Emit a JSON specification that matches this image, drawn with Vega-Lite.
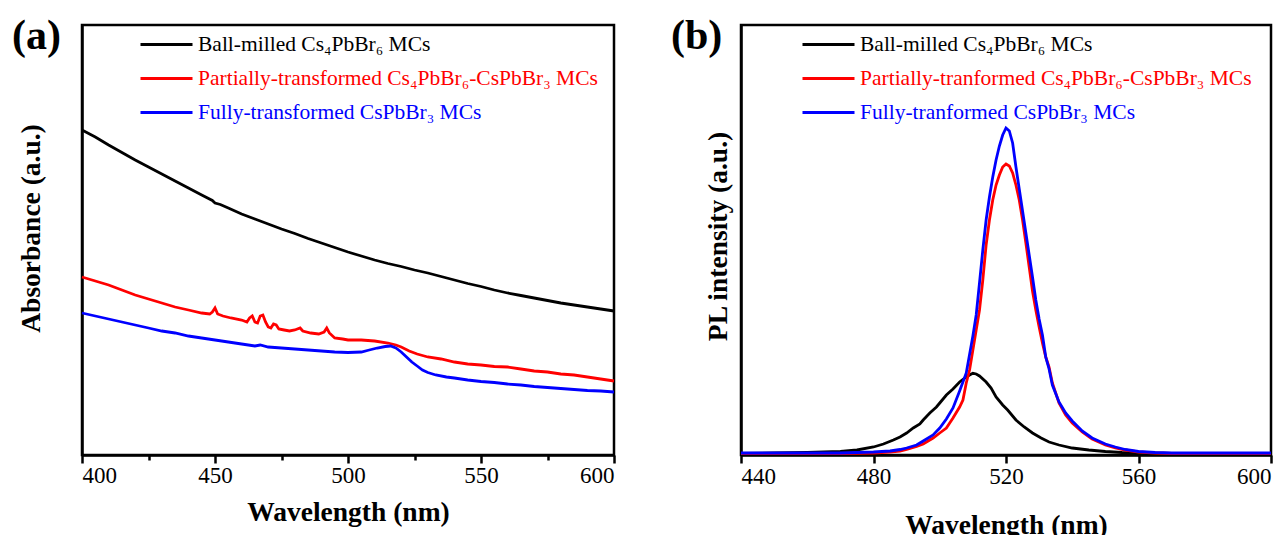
{
  "$schema": "https://vega.github.io/schema/vega-lite/v6.json",
  "padding": {"left": 10, "top": 23, "right": 0, "bottom": 0},
  "background": "white",
  "config": {
    "font": "Liberation Serif",
    "view": {"stroke": "#000000", "strokeWidth": 2.5},
    "axis": {
      "grid": false,
      "domainColor": "#000000",
      "domainWidth": 2.5,
      "tickColor": "#000000",
      "tickWidth": 2.5,
      "labelColor": "#000000",
      "labelFont": "Liberation Serif",
      "labelFontSize": 23,
      "titleFont": "Liberation Serif",
      "titleFontSize": 27.5,
      "titleFontWeight": "bold",
      "titleColor": "#000000"
    },
    "legend": {
      "labelFont": "Liberation Serif",
      "labelFontSize": 21.5,
      "titleFont": "Liberation Serif",
      "titleFontSize": 42,
      "titleFontWeight": "bold",
      "titleColor": "#000000",
      "titleOrient": "left",
      "titleAnchor": "start",
      "titleBaseline": "top",
      "titleLimit": 0,
      "titlePadding": 94,
      "orient": "none",
      "legendX": -70,
      "legendY": 8,
      "symbolType": "M-2.6,0H2.6",
      "symbolSize": 400,
      "symbolStrokeWidth": 3,
      "labelOffset": 20,
      "rowPadding": 12,
      "labelLimit": 0
    }
  },
  "datasets": {
    "abs": [
      {"k":"B","nm":400,"v":325},{"k":"B","nm":405,"v":318},{"k":"B","nm":410,"v":310},{"k":"B","nm":415,"v":302.5},{"k":"B","nm":420,"v":295},{"k":"B","nm":425,"v":288},{"k":"B","nm":430,"v":281},{"k":"B","nm":435,"v":274},{"k":"B","nm":440,"v":267},{"k":"B","nm":445,"v":260},{"k":"B","nm":449,"v":254.5},{"k":"B","nm":450,"v":252},{"k":"B","nm":452,"v":250.5},{"k":"B","nm":455,"v":247},{"k":"B","nm":460,"v":241},{"k":"B","nm":465,"v":236},{"k":"B","nm":470,"v":231},{"k":"B","nm":475,"v":226},{"k":"B","nm":480,"v":221.5},{"k":"B","nm":485,"v":216.5},{"k":"B","nm":490,"v":212},{"k":"B","nm":495,"v":207.5},{"k":"B","nm":500,"v":203},{"k":"B","nm":505,"v":199},{"k":"B","nm":510,"v":195},{"k":"B","nm":515,"v":191.5},{"k":"B","nm":520,"v":188.5},{"k":"B","nm":525,"v":185},{"k":"B","nm":530,"v":182},{"k":"B","nm":535,"v":178.5},{"k":"B","nm":540,"v":175},{"k":"B","nm":545,"v":171.5},{"k":"B","nm":550,"v":168.5},{"k":"B","nm":555,"v":165},{"k":"B","nm":560,"v":162},{"k":"B","nm":565,"v":159.5},{"k":"B","nm":570,"v":157},{"k":"B","nm":575,"v":154.5},{"k":"B","nm":580,"v":152},{"k":"B","nm":585,"v":150},{"k":"B","nm":590,"v":148},{"k":"B","nm":595,"v":146},{"k":"B","nm":600,"v":144},
      {"k":"P","nm":400,"v":178},{"k":"P","nm":405,"v":174},{"k":"P","nm":410,"v":170},{"k":"P","nm":415,"v":165},{"k":"P","nm":420,"v":160},{"k":"P","nm":425,"v":156},{"k":"P","nm":430,"v":152},{"k":"P","nm":435,"v":148},{"k":"P","nm":440,"v":145},{"k":"P","nm":445,"v":142},{"k":"P","nm":448,"v":141},{"k":"P","nm":449,"v":143},{"k":"P","nm":450,"v":147},{"k":"P","nm":451,"v":141},{"k":"P","nm":453,"v":139},{"k":"P","nm":456,"v":137},{"k":"P","nm":460,"v":135},{"k":"P","nm":462,"v":133},{"k":"P","nm":463,"v":137},{"k":"P","nm":464,"v":139},{"k":"P","nm":465,"v":133},{"k":"P","nm":466,"v":132},{"k":"P","nm":467,"v":139},{"k":"P","nm":468,"v":140},{"k":"P","nm":469,"v":133},{"k":"P","nm":470,"v":128},{"k":"P","nm":471,"v":127},{"k":"P","nm":472,"v":131},{"k":"P","nm":473,"v":130},{"k":"P","nm":474,"v":126},{"k":"P","nm":476,"v":125},{"k":"P","nm":478,"v":124},{"k":"P","nm":480,"v":125},{"k":"P","nm":482,"v":127},{"k":"P","nm":483,"v":124},{"k":"P","nm":486,"v":122},{"k":"P","nm":489,"v":121},{"k":"P","nm":491,"v":123},{"k":"P","nm":492,"v":127},{"k":"P","nm":493,"v":122},{"k":"P","nm":495,"v":117},{"k":"P","nm":498,"v":116},{"k":"P","nm":500,"v":115},{"k":"P","nm":505,"v":115},{"k":"P","nm":510,"v":114},{"k":"P","nm":515,"v":112},{"k":"P","nm":518,"v":110},{"k":"P","nm":520,"v":108},{"k":"P","nm":523,"v":104},{"k":"P","nm":526,"v":101},{"k":"P","nm":530,"v":98},{"k":"P","nm":535,"v":96},{"k":"P","nm":540,"v":93},{"k":"P","nm":545,"v":91},{"k":"P","nm":550,"v":90},{"k":"P","nm":555,"v":88.5},{"k":"P","nm":560,"v":88},{"k":"P","nm":565,"v":86},{"k":"P","nm":570,"v":84},{"k":"P","nm":575,"v":83},{"k":"P","nm":580,"v":81},{"k":"P","nm":585,"v":80},{"k":"P","nm":590,"v":78},{"k":"P","nm":595,"v":76},{"k":"P","nm":600,"v":74},
      {"k":"F","nm":400,"v":142},{"k":"F","nm":405,"v":139},{"k":"F","nm":410,"v":136},{"k":"F","nm":415,"v":133},{"k":"F","nm":420,"v":130},{"k":"F","nm":425,"v":127},{"k":"F","nm":430,"v":124},{"k":"F","nm":435,"v":122},{"k":"F","nm":440,"v":119},{"k":"F","nm":445,"v":117},{"k":"F","nm":450,"v":115},{"k":"F","nm":455,"v":113},{"k":"F","nm":460,"v":111},{"k":"F","nm":465,"v":109},{"k":"F","nm":467,"v":110},{"k":"F","nm":470,"v":108},{"k":"F","nm":475,"v":107},{"k":"F","nm":480,"v":106},{"k":"F","nm":485,"v":105},{"k":"F","nm":490,"v":104},{"k":"F","nm":495,"v":103},{"k":"F","nm":500,"v":102.5},{"k":"F","nm":505,"v":103},{"k":"F","nm":508,"v":105},{"k":"F","nm":511,"v":107},{"k":"F","nm":514,"v":108.5},{"k":"F","nm":516,"v":109},{"k":"F","nm":518,"v":107},{"k":"F","nm":520,"v":103},{"k":"F","nm":522,"v":98},{"k":"F","nm":524,"v":93},{"k":"F","nm":526,"v":89},{"k":"F","nm":528,"v":85},{"k":"F","nm":530,"v":82.5},{"k":"F","nm":533,"v":80},{"k":"F","nm":537,"v":78},{"k":"F","nm":540,"v":77},{"k":"F","nm":545,"v":75},{"k":"F","nm":550,"v":73.5},{"k":"F","nm":555,"v":72.5},{"k":"F","nm":560,"v":71},{"k":"F","nm":565,"v":70},{"k":"F","nm":570,"v":68.5},{"k":"F","nm":575,"v":67.5},{"k":"F","nm":580,"v":66.5},{"k":"F","nm":585,"v":65.5},{"k":"F","nm":590,"v":64.5},{"k":"F","nm":595,"v":64},{"k":"F","nm":600,"v":63}
    ],
    "pl": [
      {"k":"B","nm":440,"v":1.5},{"k":"B","nm":450,"v":2},{"k":"B","nm":460,"v":2.5},{"k":"B","nm":465,"v":3},{"k":"B","nm":470,"v":3.5},{"k":"B","nm":475,"v":5},{"k":"B","nm":480,"v":8},{"k":"B","nm":483,"v":11},{"k":"B","nm":486,"v":15},{"k":"B","nm":488,"v":18},{"k":"B","nm":490,"v":22},{"k":"B","nm":492,"v":27},{"k":"B","nm":494,"v":31},{"k":"B","nm":495,"v":35},{"k":"B","nm":497,"v":42},{"k":"B","nm":499,"v":48},{"k":"B","nm":500,"v":52},{"k":"B","nm":502,"v":60},{"k":"B","nm":504,"v":66},{"k":"B","nm":506,"v":73},{"k":"B","nm":508,"v":78},{"k":"B","nm":509,"v":80},{"k":"B","nm":510,"v":81.7},{"k":"B","nm":511,"v":81},{"k":"B","nm":512,"v":79},{"k":"B","nm":514,"v":73},{"k":"B","nm":515.5,"v":67},{"k":"B","nm":517,"v":58},{"k":"B","nm":519,"v":50},{"k":"B","nm":520.5,"v":45},{"k":"B","nm":523,"v":35},{"k":"B","nm":525.5,"v":28},{"k":"B","nm":528,"v":22},{"k":"B","nm":530.6,"v":17},{"k":"B","nm":533,"v":13},{"k":"B","nm":536,"v":10},{"k":"B","nm":540,"v":7},{"k":"B","nm":545,"v":5},{"k":"B","nm":550,"v":3.5},{"k":"B","nm":555,"v":2.5},{"k":"B","nm":560,"v":2},{"k":"B","nm":570,"v":1.5},{"k":"B","nm":600,"v":1.5},
      {"k":"P","nm":440,"v":1.5},{"k":"P","nm":460,"v":1.5},{"k":"P","nm":470,"v":1.5},{"k":"P","nm":480,"v":2},{"k":"P","nm":485,"v":3},{"k":"P","nm":488,"v":4},{"k":"P","nm":490,"v":5.5},{"k":"P","nm":493,"v":8.5},{"k":"P","nm":495,"v":11},{"k":"P","nm":498,"v":17},{"k":"P","nm":500,"v":22},{"k":"P","nm":502,"v":27},{"k":"P","nm":504,"v":37},{"k":"P","nm":506,"v":48},{"k":"P","nm":507,"v":55},{"k":"P","nm":508,"v":72},{"k":"P","nm":509,"v":85},{"k":"P","nm":510,"v":105},{"k":"P","nm":511,"v":125},{"k":"P","nm":512,"v":145},{"k":"P","nm":513,"v":175},{"k":"P","nm":514,"v":210},{"k":"P","nm":515,"v":235},{"k":"P","nm":516,"v":255},{"k":"P","nm":517,"v":270},{"k":"P","nm":518,"v":280},{"k":"P","nm":519,"v":288},{"k":"P","nm":520,"v":291},{"k":"P","nm":521,"v":289},{"k":"P","nm":522,"v":282},{"k":"P","nm":523,"v":270},{"k":"P","nm":524,"v":255},{"k":"P","nm":525,"v":235},{"k":"P","nm":526,"v":212},{"k":"P","nm":527,"v":188},{"k":"P","nm":528,"v":164},{"k":"P","nm":529,"v":145},{"k":"P","nm":530,"v":128},{"k":"P","nm":531,"v":112},{"k":"P","nm":532,"v":98},{"k":"P","nm":533,"v":88},{"k":"P","nm":534,"v":72},{"k":"P","nm":536,"v":52},{"k":"P","nm":538,"v":40},{"k":"P","nm":540,"v":32},{"k":"P","nm":543,"v":23},{"k":"P","nm":546,"v":16},{"k":"P","nm":550,"v":10},{"k":"P","nm":553,"v":7},{"k":"P","nm":556,"v":5},{"k":"P","nm":560,"v":3},{"k":"P","nm":565,"v":2},{"k":"P","nm":570,"v":1.5},{"k":"P","nm":580,"v":1.5},{"k":"P","nm":600,"v":1.5},
      {"k":"F","nm":440,"v":2},{"k":"F","nm":450,"v":2},{"k":"F","nm":460,"v":2},{"k":"F","nm":470,"v":2},{"k":"F","nm":475,"v":2.5},{"k":"F","nm":480,"v":3},{"k":"F","nm":485,"v":4},{"k":"F","nm":488,"v":5.5},{"k":"F","nm":490,"v":7},{"k":"F","nm":493,"v":10},{"k":"F","nm":495,"v":14},{"k":"F","nm":498,"v":20},{"k":"F","nm":500,"v":27},{"k":"F","nm":502,"v":36},{"k":"F","nm":504,"v":47},{"k":"F","nm":506,"v":64},{"k":"F","nm":508,"v":82},{"k":"F","nm":510,"v":119},{"k":"F","nm":511,"v":140},{"k":"F","nm":512,"v":172},{"k":"F","nm":513,"v":205},{"k":"F","nm":514,"v":235},{"k":"F","nm":515,"v":258},{"k":"F","nm":516,"v":278},{"k":"F","nm":517,"v":295},{"k":"F","nm":518,"v":309},{"k":"F","nm":519,"v":320},{"k":"F","nm":520,"v":327},{"k":"F","nm":521,"v":324},{"k":"F","nm":522,"v":312},{"k":"F","nm":523,"v":288},{"k":"F","nm":524,"v":266},{"k":"F","nm":525,"v":244},{"k":"F","nm":526,"v":222},{"k":"F","nm":527,"v":200},{"k":"F","nm":528,"v":178},{"k":"F","nm":529,"v":155},{"k":"F","nm":530,"v":136},{"k":"F","nm":531,"v":120},{"k":"F","nm":532,"v":98},{"k":"F","nm":533,"v":86},{"k":"F","nm":534,"v":70},{"k":"F","nm":536,"v":53},{"k":"F","nm":538,"v":42},{"k":"F","nm":540,"v":34},{"k":"F","nm":543,"v":24},{"k":"F","nm":546,"v":17},{"k":"F","nm":550,"v":11},{"k":"F","nm":553,"v":8},{"k":"F","nm":556,"v":5.5},{"k":"F","nm":560,"v":3.5},{"k":"F","nm":565,"v":2.5},{"k":"F","nm":570,"v":2},{"k":"F","nm":580,"v":2},{"k":"F","nm":590,"v":2},{"k":"F","nm":600,"v":2}
    ]
  },
  "hconcat": [
    {
      "width": 532,
      "height": 430,
      "data": {"name": "abs"},
      "mark": {"type": "line", "strokeWidth": 2.8},
      "encoding": {
        "x": {
          "field": "nm", "type": "quantitative",
          "scale": {"domain": [400, 600], "nice": false, "zero": false},
          "axis": {
            "title": "Wavelength (nm)",
            "values": [400, 425, 450, 475, 500, 525, 550, 575, 600],
            "labelExpr": "datum.value % 50 === 0 ? datum.label : ''",
            "labelOverlap": false,
            "labelPadding": 1,
            "tickSize": {"condition": {"test": "datum.value % 50 === 0", "value": 8}, "value": 5},
            "titlePadding": 11
          }
        },
        "y": {
          "field": "v", "type": "quantitative",
          "scale": {"domain": [0, 430], "nice": false},
          "axis": {"title": "Absorbance (a.u.)", "labels": false, "ticks": false, "titlePadding": 37, "titleY": 203}
        },
        "color": {
          "field": "k", "type": "nominal",
          "scale": {"domain": ["B", "P", "F"], "range": ["#000000", "#ff0000", "#0000ff"]},
          "legend": {
            "title": "(a)",
            "labelExpr": "datum.value === 'B' ? 'Ball-milled Cs₄PbBr₆ MCs' : datum.value === 'P' ? 'Partially-transformed Cs₄PbBr₆-CsPbBr₃ MCs' : 'Fully-transformed CsPbBr₃ MCs'",
            "encode": {
              "title": {"update": {"dy": {"value": -17}}},
              "labels": {"update": {"fill": {"signal": "datum.value === 'P' ? '#ff0000' : datum.value === 'F' ? '#0000ff' : '#000000'"}}}
            }
          }
        }
      }
    },
    {
      "width": 530,
      "height": 430,
      "data": {"name": "pl"},
      "mark": {"type": "line", "strokeWidth": 2.8},
      "encoding": {
        "x": {
          "field": "nm", "type": "quantitative",
          "scale": {"domain": [440, 600], "nice": false, "zero": false},
          "axis": {
            "title": "Wavelength (nm)",
            "values": [440, 480, 520, 560, 600],
            "labelOverlap": false,
            "labelPadding": 2,
            "tickSize": 8,
            "titlePadding": 23
          }
        },
        "y": {
          "field": "v", "type": "quantitative",
          "scale": {"domain": [0, 430], "nice": false},
          "axis": {"title": "PL intensity (a.u.)", "labels": false, "ticks": false, "titlePadding": 9, "titleY": 211}
        },
        "color": {
          "field": "k", "type": "nominal",
          "scale": {"domain": ["B", "P", "F"], "range": ["#000000", "#ff0000", "#0000ff"]},
          "legend": {
            "title": "(b)",
            "labelExpr": "datum.value === 'B' ? 'Ball-milled Cs₄PbBr₆ MCs' : datum.value === 'P' ? 'Partially-tranformed Cs₄PbBr₆-CsPbBr₃ MCs' : 'Fully-tranformed CsPbBr₃ MCs'",
            "encode": {
              "title": {"update": {"dy": {"value": -17}}},
              "labels": {"update": {"fill": {"signal": "datum.value === 'P' ? '#ff0000' : datum.value === 'F' ? '#0000ff' : '#000000'"}}}
            }
          }
        }
      }
    }
  ],
  "spacing": 48,
  "resolve": {"scale": {"color": "independent"}, "legend": {"color": "independent"}}
}
